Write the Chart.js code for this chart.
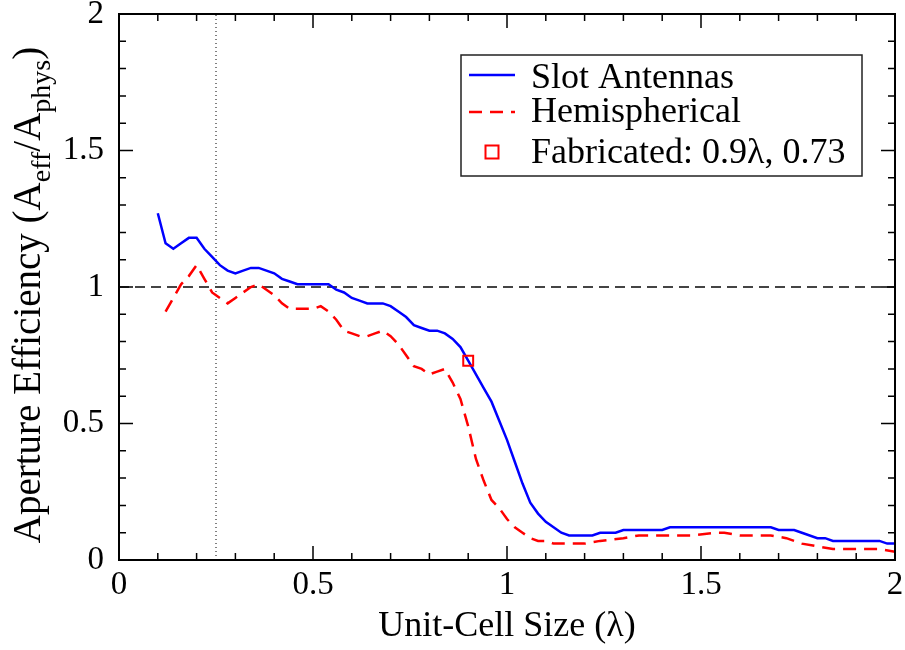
<!DOCTYPE html>
<html>
<head>
<meta charset="utf-8">
<script src="https://cdn.jsdelivr.net/npm/chart.js@4.4.1/dist/chart.umd.min.js"></script>
<style>
  html, body { margin: 0; padding: 0; background: #fff; }
  #wrap { width: 905px; height: 650px; }
</style>
</head>
<body>
<div id="wrap"><canvas id="myChart" width="905" height="650"></canvas></div>
<script>
// slot antenna array efficiency vs unit-cell size
const slotX = [0.10, 0.12, 0.14, 0.16, 0.18, 0.20, 0.22, 0.24, 0.26, 0.28, 0.30, 0.32, 0.34, 0.36, 0.38,
  0.40, 0.42, 0.44, 0.46, 0.48, 0.50, 0.52, 0.54, 0.56, 0.58, 0.60, 0.62, 0.64, 0.66, 0.68, 0.70, 0.72,
  0.74, 0.76, 0.78, 0.80, 0.82, 0.84, 0.86, 0.88, 0.90, 0.92, 0.94, 0.96, 0.98, 1.00, 1.02, 1.04, 1.06,
  1.08, 1.10, 1.12, 1.14, 1.16, 1.18, 1.20, 1.22, 1.24, 1.26, 1.28, 1.30, 1.40, 1.42, 1.68, 1.70, 1.74,
  1.76, 1.80, 1.82, 1.84, 1.96, 1.98, 2.00];
const slotY = [1.27, 1.16, 1.14, 1.16, 1.18, 1.18, 1.14, 1.11, 1.08, 1.06, 1.05, 1.06, 1.07, 1.07, 1.06,
  1.05, 1.03, 1.02, 1.01, 1.01, 1.01, 1.01, 1.01, 0.99, 0.98, 0.96, 0.95, 0.94, 0.94, 0.94, 0.93, 0.91,
  0.89, 0.86, 0.85, 0.84, 0.84, 0.83, 0.81, 0.78, 0.73, 0.68, 0.63, 0.58, 0.51, 0.44, 0.36, 0.28, 0.21,
  0.17, 0.14, 0.12, 0.10, 0.09, 0.09, 0.09, 0.09, 0.10, 0.10, 0.10, 0.11, 0.11, 0.12, 0.12, 0.11, 0.11,
  0.10, 0.08, 0.08, 0.07, 0.07, 0.06, 0.06];

// hemispherical lens reference
const hemiX = [0.12, 0.14, 0.16, 0.18, 0.20, 0.22, 0.24, 0.26, 0.28, 0.30, 0.32, 0.34, 0.36, 0.38, 0.40,
  0.42, 0.44, 0.46, 0.48, 0.50, 0.52, 0.54, 0.56, 0.58, 0.60, 0.62, 0.64, 0.66, 0.68, 0.70, 0.72, 0.74,
  0.76, 0.78, 0.80, 0.82, 0.84, 0.86, 0.88, 0.90, 0.92, 0.94, 0.96, 0.98, 1.00, 1.02, 1.04, 1.06, 1.08,
  1.10, 1.12, 1.20, 1.24, 1.30, 1.34, 1.48, 1.54, 1.56, 1.60, 1.68, 1.72, 1.76, 1.80, 1.84, 1.96, 2.00];
const hemiY = [0.91, 0.96, 1.01, 1.04, 1.08, 1.03, 0.98, 0.96, 0.94, 0.96, 0.98, 1.00, 1.01, 0.99, 0.97,
  0.94, 0.92, 0.92, 0.92, 0.92, 0.93, 0.91, 0.88, 0.84, 0.83, 0.82, 0.82, 0.83, 0.84, 0.82, 0.79, 0.75,
  0.71, 0.70, 0.68, 0.69, 0.70, 0.65, 0.59, 0.49, 0.37, 0.29, 0.22, 0.19, 0.15, 0.12, 0.10, 0.08, 0.07,
  0.07, 0.06, 0.06, 0.07, 0.08, 0.09, 0.09, 0.10, 0.10, 0.09, 0.09, 0.08, 0.06, 0.05, 0.04, 0.04, 0.03];

// measured prototype
const fabX = [0.9];
const fabY = [0.73];

const labels = ['Slot Antennas', 'Hemispherical', 'Fabricated: 0.9\u03bb, 0.73'];
const xTicks = [0, 0.5, 1, 1.5, 2];
const yTicks = [0, 0.5, 1, 1.5, 2];
const minorStep = 0.1;
const unityY = 1;     // efficiency = 1
const markerX = 0.25; // quarter-wavelength marker

const serif = '"Liberation Serif", "Times New Roman", Times, serif';

const pts = (xs, ys) => xs.map((v, i) => ({ x: v, y: ys[i] }));

// frame with inward ticks on all four sides
const frameTicks = {
  id: 'frameTicks',
  afterDatasetsDraw(chart) {
    const { ctx, chartArea: a, scales: { x, y } } = chart;
    ctx.save();
    ctx.strokeStyle = '#000';
    ctx.lineWidth = 1.5;
    const n = Math.round((xTicks[xTicks.length - 1] - xTicks[0]) / minorStep);
    for (let i = 0; i <= n; i++) {
      const v = xTicks[0] + i * minorStep;
      const major = xTicks.some((t) => Math.abs(t - v) < 1e-6);
      const len = major ? 14 : 7;
      const px = x.getPixelForValue(v);
      const py = y.getPixelForValue(v);
      ctx.beginPath();
      ctx.moveTo(px, a.bottom); ctx.lineTo(px, a.bottom - len);
      ctx.moveTo(px, a.top); ctx.lineTo(px, a.top + len);
      ctx.moveTo(a.left, py); ctx.lineTo(a.left + len, py);
      ctx.moveTo(a.right, py); ctx.lineTo(a.right - len, py);
      ctx.stroke();
    }
    ctx.lineWidth = 2;
    ctx.strokeRect(a.left, a.top, a.right - a.left, a.bottom - a.top);
    ctx.restore();
  }
};

// y title with subscripts
const yTitle = {
  id: 'yTitle',
  afterDraw(chart) {
    const ctx = chart.ctx;
    const parts = [
      ['Aperture Efficiency (A', false],
      ['eff', true],
      ['/A', false],
      ['phys', true],
      [')', false]
    ];
    const big = '39px ' + serif;
    const small = '28px ' + serif;
    let total = 0;
    parts.forEach(([t, sub]) => { ctx.font = sub ? small : big; total += ctx.measureText(t).width; });
    ctx.save();
    ctx.translate(40, 295);
    ctx.rotate(-Math.PI / 2);
    ctx.fillStyle = '#000';
    ctx.textBaseline = 'alphabetic';
    let cx = -total / 2;
    parts.forEach(([t, sub]) => {
      ctx.font = sub ? small : big;
      ctx.fillText(t, cx, sub ? 10 : 0);
      cx += ctx.measureText(t).width;
    });
    ctx.restore();
  }
};

// boxed legend in the upper right
const boxLegend = {
  id: 'boxLegend',
  afterDraw(chart) {
    const ctx = chart.ctx;
    const ds = chart.data.datasets;
    ctx.save();
    ctx.fillStyle = '#fff';
    ctx.fillRect(461, 55, 401, 121);
    ctx.strokeStyle = '#222';
    ctx.lineWidth = 1.5;
    ctx.strokeRect(461, 55, 401, 121);

    ctx.lineWidth = ds[0].borderWidth;
    ctx.strokeStyle = ds[0].borderColor;
    ctx.beginPath(); ctx.moveTo(469, 75); ctx.lineTo(515, 75); ctx.stroke();

    ctx.lineWidth = ds[1].borderWidth;
    ctx.strokeStyle = ds[1].borderColor;
    ctx.setLineDash(ds[1].borderDash);
    ctx.beginPath(); ctx.moveTo(469, 112); ctx.lineTo(515, 112); ctx.stroke();
    ctx.setLineDash([]);

    ctx.lineWidth = 2;
    ctx.strokeStyle = ds[2].borderColor;
    ctx.strokeRect(485.5, 145.5, 13, 13);

    ctx.fillStyle = '#000';
    ctx.font = '36px ' + serif;
    ctx.textBaseline = 'alphabetic';
    ctx.fillText(labels[0], 531, 88);
    ctx.fillText(labels[1], 531, 122);
    ctx.fillText(labels[2], 531, 163);
    ctx.restore();
  }
};

// no auto padding for overhanging tick labels
const fixedBox = (size) => (s) => {
  if (s.isHorizontal()) s.height = size; else s.width = size;
  s.paddingLeft = 0; s.paddingRight = 0; s.paddingTop = 0; s.paddingBottom = 0;
};

function drawChart() {
  const ctx = document.getElementById('myChart').getContext('2d');
  new Chart(ctx, {
    type: 'scatter',
    data: {
      datasets: [
        {
          label: labels[0],
          data: pts(slotX, slotY),
          showLine: true,
          borderColor: '#0000ff',
          borderWidth: 2.5,
          pointRadius: 0,
          tension: 0,
          order: 1
        },
        {
          label: labels[1],
          data: pts(hemiX, hemiY),
          showLine: true,
          borderColor: '#ff0000',
          borderWidth: 2.5,
          borderDash: [13, 8],
          pointRadius: 0,
          tension: 0,
          order: 2
        },
        {
          label: labels[2],
          data: pts(fabX, fabY),
          showLine: false,
          borderColor: '#ff0000',
          backgroundColor: 'rgba(0,0,0,0)',
          pointStyle: 'rect',
          pointRadius: 7,
          pointBorderWidth: 2,
          order: 0
        },
        {
          label: 'unity',
          data: [{ x: xTicks[0], y: unityY }, { x: xTicks[xTicks.length - 1], y: unityY }],
          showLine: true,
          borderColor: '#444',
          borderWidth: 2,
          borderDash: [10, 6],
          pointRadius: 0,
          order: 3
        },
        {
          label: 'marker',
          data: [{ x: markerX, y: yTicks[0] }, { x: markerX, y: yTicks[yTicks.length - 1] }],
          showLine: true,
          borderColor: '#000',
          borderWidth: 1,
          borderDash: [1, 3],
          pointRadius: 0,
          order: 4
        }
      ]
    },
    options: {
      responsive: false,
      animation: false,
      devicePixelRatio: 1,
      layout: { padding: { top: 14, right: 10, left: 0, bottom: 0 } },
      plugins: {
        legend: { display: false },
        tooltip: { enabled: false }
      },
      scales: {
        x: {
          type: 'linear',
          min: 0,
          max: 2,
          afterBuildTicks: (s) => { s.ticks = xTicks.map((v) => ({ value: v })); },
          afterFit: fixedBox(90),
          grid: { display: false },
          border: { display: false },
          ticks: {
            color: '#000', padding: -2, maxRotation: 0,
            font: { family: serif, size: 33 },
            callback: (v) => String(v)
          },
          title: {
            display: true,
            text: 'Unit-Cell Size (\u03bb)',
            color: '#000',
            font: { family: serif, size: 36 },
            padding: { top: 0, bottom: 2 }
          }
        },
        y: {
          type: 'linear',
          min: 0,
          max: 2,
          afterBuildTicks: (s) => { s.ticks = yTicks.map((v) => ({ value: v })); },
          afterFit: fixedBox(119),
          grid: { display: false },
          border: { display: false },
          ticks: {
            color: '#000', padding: 7,
            font: { family: serif, size: 33 },
            callback: (v) => String(v)
          }
        }
      }
    },
    plugins: [frameTicks, yTitle, boxLegend]
  });
}

document.fonts.load('36px "Liberation Serif"').then(drawChart, drawChart);
</script>
</body>
</html>
